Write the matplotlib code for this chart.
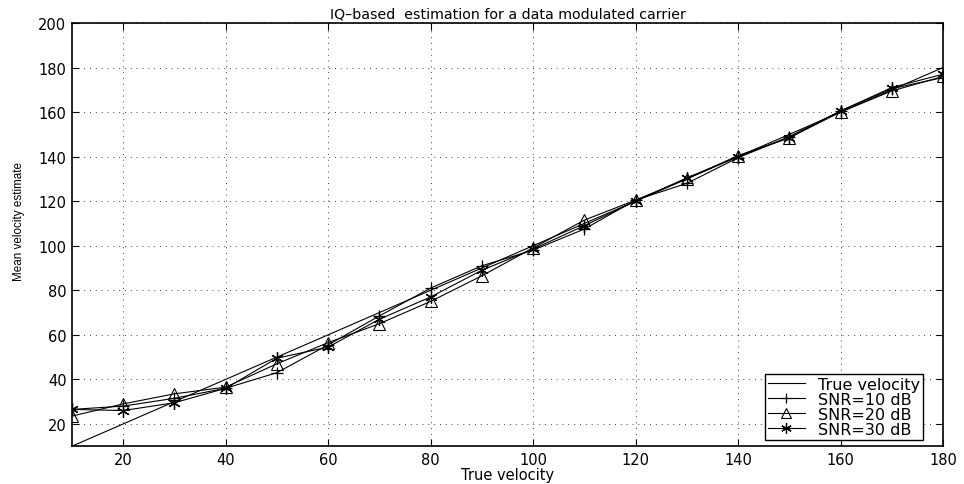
import numpy as np
import matplotlib
matplotlib.use("Agg")
import matplotlib.pyplot as plt

plt.rcParams['font.family'] = ['DejaVu Sans']

# data
true_v = [10, 20, 30, 40, 50, 60, 70, 80, 90, 100, 110, 120, 130, 140, 150, 160, 170, 180]
snr10 = [26.5, 28, 31.5, 36, 43, 55.5, 68.5, 81, 91, 98, 107.5, 120.5, 128, 139.5, 149, 160.5, 170.5, 175.5]
snr20 = [23.5, 29, 33.5, 36.5, 47, 56.5, 65, 75, 86.5, 99, 111.5, 120.5, 130, 140.5, 148.5, 160, 169.5, 176]
snr30 = [26.5, 26, 29.5, 36, 49.5, 54.5, 67, 77, 89, 98.5, 109, 120, 130.5, 140, 148.5, 160.5, 171, 177]

fig = plt.figure(figsize=(9.64, 4.85), dpi=100)
ax = fig.add_axes([0.0747, 0.078, 0.9035, 0.8725])

lw = 0.8
ax.plot(true_v, true_v, 'k-', linewidth=lw, label='True velocity')
ax.plot(true_v, snr10, 'k-', marker='+', markersize=9, markeredgewidth=0.9,
        linewidth=lw, label='SNR=10 dB')
ax.plot(true_v, snr20, 'k-', marker='^', markersize=9, markerfacecolor='none',
        markeredgewidth=0.8, linewidth=lw, label='SNR=20 dB')
ax.plot(true_v, snr30, 'k-', marker=(6, 2, 0), markersize=9,
        markeredgewidth=0.9, linewidth=lw, label='SNR=30 dB')

ax.set_xlim(10, 180)
ax.set_ylim(10, 200)
ax.set_xticks(np.arange(20, 181, 20))
ax.set_yticks(np.arange(20, 201, 20))
ax.grid(True, linestyle=(0, (1, 5)), color='k', linewidth=0.7, alpha=0.75)
ax.tick_params(direction='in', top=True, right=True, labelsize=10.5, length=5, pad=4)
for s in ax.spines.values():
    s.set_linewidth(1.2)

ax.set_xlabel('True velocity', fontsize=10.5, labelpad=0)
ax.set_ylabel('Mean velocity estimate', fontsize=8.4, family='Liberation Sans')
ax.yaxis.set_label_coords(-0.054, 0.534)
ax.set_title('IQ\u2013based  estimation for a data modulated carrier', fontsize=10.2, pad=4)

leg = ax.legend(loc='lower right', bbox_to_anchor=(0.977, 0.014), fontsize=11.5,
                frameon=True, fancybox=False, edgecolor='k', framealpha=1,
                handlelength=2.3, borderpad=0.2, labelspacing=0.0,
                handletextpad=0.8, borderaxespad=0, markerscale=0.85)
leg.get_frame().set_linewidth(1.0)

fig.savefig('out.png', dpi=100)
